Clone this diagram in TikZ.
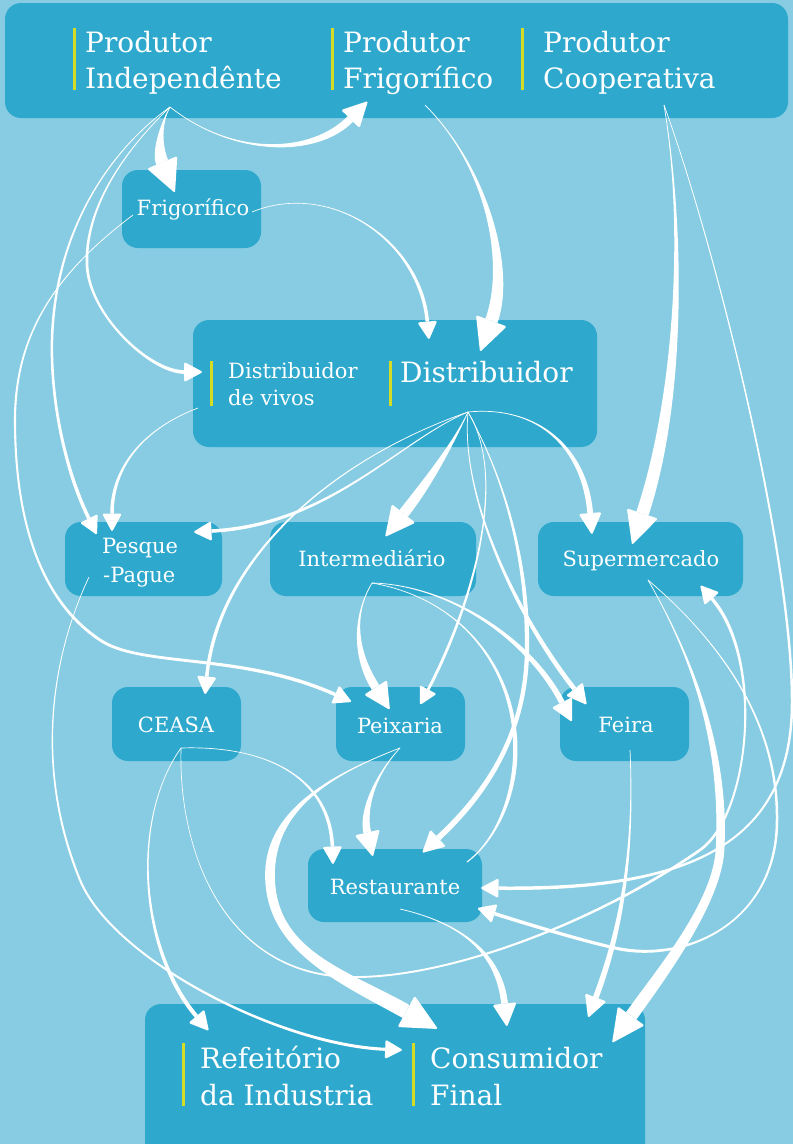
\documentclass[tikz,border=0pt]{standalone}
\usepackage{fontspec}
\setmainfont{DejaVu Serif}
\usetikzlibrary{calc}
\definecolor{bg}{HTML}{87CCE3}
\definecolor{boxc}{HTML}{2EA9CD}
\definecolor{barc}{HTML}{D5DC26}
\tikzset{
  box/.style={fill=boxc, rounded corners=16pt, inner sep=0pt},
  big/.style={text=white, font=\fontsize{28}{34}\selectfont, inner sep=0pt},
  small/.style={text=white, font=\fontsize{21}{27}\selectfont, inner sep=0pt},
  bar/.style={draw=barc, line width=3pt},
  edgefill/.style={fill=white},
}
% tapered cubic segment: P0, P1, P2, P3, half width at start, half width at end
\newcommand\tseg[6]{%
  \pgfmathsetlengthmacro\ha{(#5+0.35)*1pt}%
  \pgfmathsetlengthmacro\hb{(#6+0.35)*1pt}%
  \fill[edgefill] ($(#1)!\ha!90:(#2)$) .. controls ($(#2)!\ha!-90:(#1)$) and ($(#3)!\hb!90:(#4)$) .. ($(#4)!\hb!-90:(#3)$)
    -- ($(#4)!\hb!90:(#3)$) .. controls ($(#3)!\hb!-90:(#4)$) and ($(#2)!\ha!90:(#1)$) .. ($(#1)!\ha!-90:(#2)$) -- cycle;}
% last segment with arrow head: P0, P1, P2, tip, half width start, half width end
\newcommand\lastseg[6]{%
  \pgfmathsetlengthmacro\arL{(14+3.2*#6)*1pt}%
  \pgfmathsetlengthmacro\arH{(8+1.4*#6)*1pt}%
  \coordinate (ab) at ($(#4)!\arL!(#3)$);
  \tseg{#1}{#2}{#3}{ab}{#5}{#6}%
  \fill[edgefill, rounded corners=1.5pt] (#4) -- ($(ab)!\arH!90:(#4)$) -- ($(ab)!\arH!-90:(#4)$) -- cycle;}
\begin{document}
\begin{tikzpicture}[x=1pt,y=-1pt]
\fill[bg] (0,0) rectangle (793,1144);
\useasboundingbox (0,0) rectangle (793,1144);
\clip (0,0) rectangle (793,1144);

% boxes
\node[box, minimum width=783pt, minimum height=115pt] (top) at (396.5,60.5) {};
\node[box, minimum width=139pt, minimum height=78pt] (F) at (191.5,209) {};
\node[box, minimum width=404pt, minimum height=127pt] (D) at (395,383.5) {};
\node[box, minimum width=157pt, minimum height=74pt] (PP) at (143.5,559) {};
\node[box, minimum width=206pt, minimum height=74pt] (IN) at (373,559) {};
\node[box, minimum width=205pt, minimum height=74pt] (S) at (640.5,559) {};
\node[box, minimum width=129pt, minimum height=74pt] (C) at (176.5,724) {};
\node[box, minimum width=129pt, minimum height=74pt] (PX) at (400.5,724) {};
\node[box, minimum width=129pt, minimum height=74pt] (FE) at (624.5,724) {};
\node[box, minimum width=174pt, minimum height=73pt] (R) at (395,885.5) {};
\node[box, minimum width=500pt, minimum height=160pt] (B) at (395,1084) {};

% texts
\draw[bar] (74,28) -- (74,90);
\node[big, anchor=base west] (I1) at (85,52) {Produtor};
\node[big, anchor=base west] (I2) at (85,88) {Independênte};
\draw[bar] (332,28) -- (332,90);
\node[big, anchor=base west] (PF1) at (343,52) {Produtor};
\node[big, anchor=base west] (PF2) at (343,88) {Frigorífico};
\draw[bar] (522,28) -- (522,90);
\node[big, anchor=base west] (PC1) at (543,52) {Produtor};
\node[big, anchor=base west] (PC2) at (543,88) {Cooperativa};
\node[small, anchor=base] (Ft) at (193,215) {Frigorífico};
\draw[bar] (211,361) -- (211,406);
\node[small, anchor=base west] (DV1) at (228,378) {Distribuidor};
\node[small, anchor=base west] (DV2) at (228,405) {de vivos};
\draw[bar] (390.5,361) -- (390.5,406);
\node[big, anchor=base west] (Dt) at (400,382) {Distribuidor};
\node[small, anchor=base west] (PP1) at (102,553) {Pesque};
\node[small, anchor=base west] (PP2) at (103,582) {-Pague};
\node[small, anchor=base] (INt) at (372,566) {Intermediário};
\node[small, anchor=base] (St) at (641,566) {Supermercado};
\node[small, anchor=base] (Ct) at (176,732) {CEASA};
\node[small, anchor=base] (PXt) at (400,733) {Peixaria};
\node[small, anchor=base] (FEt) at (626,732) {Feira};
\node[small, anchor=base] (Rt) at (395,894) {Restaurante};
\draw[bar] (183.6,1043) -- (183.6,1106);
\node[big, anchor=base west] (RF1) at (200,1068) {Refeitório};
\node[big, anchor=base west] (RF2) at (200,1105) {da Industria};
\draw[bar] (413.7,1043) -- (413.7,1106);
\node[big, anchor=base west] (CF1) at (430,1068) {Consumidor};
\node[big, anchor=base west] (CF2) at (430,1105) {Final};

% connector tails
\coordinate (Iout) at (170,107);
\coordinate (PFout) at (425,105);
\coordinate (PCout) at (664,105);
\coordinate (Fout) at (252,212);
\coordinate (Fout2) at (133,215);
\coordinate (DVout) at (198,408);
\coordinate (Dout) at (468,412);
\coordinate (PPout) at (89,577);
\coordinate (INout) at (372,583);
\coordinate (Sout) at (648,580);
\coordinate (Cout) at (181,748);
\coordinate (PXout) at (400,748);
\coordinate (FEout) at (630,750);
\coordinate (Rout) at (400,909);

% Produtor Independente
\lastseg{Iout}{235,158}{315,155}{368,101}{0}{3.5}
\lastseg{Iout}{160,125}{157,150}{175,193}{0}{6}
\tseg{Iout}{115,160}{85,215}{87,265}{0}{1}
\lastseg{87,265}{89,315}{150,372}{203,372}{1}{1.5}
\tseg{Iout}{110,150}{55,230}{52,340}{0}{0.9}
\lastseg{52,340}{50.5,400}{65,470}{97,535}{0.9}{1.4}
% Frigorifico
\tseg{Fout2}{60,270}{15,330}{15,420}{0}{0.7}
\tseg{15,420}{15,520}{40,600}{100,640}{0.7}{1.1}
\lastseg{100,640}{142,668}{240,652}{352,702}{1.1}{1.4}
\lastseg{Fout}{330,180}{420,240}{429,340}{0}{1.4}
% Produtor Frigorifico
\lastseg{PFout}{490,170}{510,270}{480,352}{0}{6}
% Distribuidor de vivos
\lastseg{DVout}{140,430}{112,470}{112,532}{0}{1.4}
% Distribuidor
\lastseg{Dout}{400,440}{330,525}{193,532}{0}{1.4}
\lastseg{Dout}{330,460}{218,560}{205,695}{0}{1.4}
\lastseg{Dout}{455,440}{430,480}{385,537}{0}{5}
\lastseg{Dout}{540,405}{585,450}{592,535}{0}{2.5}
\lastseg{Dout}{510,480}{470,610}{420,705}{0}{1.1}
\lastseg{Dout}{460,500}{520,620}{587,705}{0}{2}
\tseg{Dout}{505,480}{528,560}{527,650}{0}{1.8}
\lastseg{527,650}{526,730}{490,790}{422,853}{1.8}{2.5}
% Produtor Cooperativa
\lastseg{PCout}{685,230}{680,400}{632,545}{0}{6}
\tseg{PCout}{720,260}{792,560}{792,700}{0}{0.9}
\lastseg{792,700}{793,850}{680,890}{480,888}{0.9}{1.4}
% Supermercado
\tseg{Sout}{700,670}{725,760}{720,850}{0}{4}
\lastseg{720,850}{717,904}{658,978}{612,1043}{4}{6}
\tseg{Sout}{730,650}{778,730}{777,820}{0}{0.9}
\tseg{777,820}{777,920}{690,962}{620,949}{0.9}{1.2}
\lastseg{620,949}{590,943}{530,925}{477,908}{1.2}{1.4}
% Intermediario
\lastseg{INout}{350,620}{358,660}{390,710}{0}{4}
\lastseg{INout}{450,585}{530,640}{572,722}{0}{2.5}
\tseg{INout}{470,600}{520,680}{515,760}{0}{1.8}
\tseg{515,760}{512,808}{490,845}{467,862}{1.8}{0.2}
% CEASA
\lastseg{Cout}{270,745}{330,780}{333,865}{0}{1.4}
\lastseg{Cout}{130,820}{140,950}{209,1031}{0}{1.7}
\tseg{Cout}{178,860}{230,975}{350,977}{0}{0.6}
\tseg{350,977}{450,979}{600,920}{700,850}{0.6}{1}
\lastseg{700,850}{750,815}{765,660}{700,585}{1}{1.3}
% Pesque-Pague
\tseg{PPout}{50,660}{35,770}{80,880}{0}{0.7}
\lastseg{80,880}{113,960}{280,1045}{403,1050}{0.7}{1.2}
% Peixaria
\lastseg{PXout}{375,775}{362,810}{373,857}{0}{3.5}
\tseg{PXout}{330,775}{270,810}{270,875}{0}{4.5}
\lastseg{270,875}{270,950}{340,975}{438,1029}{4.5}{7}
% Restaurante
\lastseg{Rout}{470,925}{500,960}{507,1027}{0}{3}
% Feira
\lastseg{FEout}{634,840}{625,920}{588,1018}{0}{2.5}
\end{tikzpicture}
\end{document}
